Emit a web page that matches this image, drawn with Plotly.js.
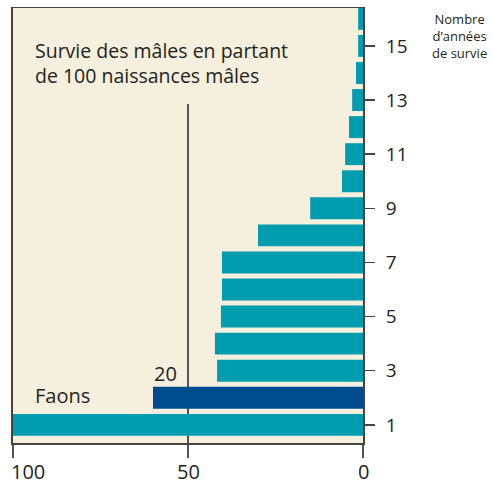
<!DOCTYPE html>
<html>
<head>
<meta charset="utf-8">
<script src="https://cdn.plot.ly/plotly-3.0.1.min.js"></script>
<style>html,body{margin:0;padding:0;background:#fff;}#chart{width:492px;height:484px;}</style>
</head>
<body>
<div id="chart"></div>
<script>
// Number of years of survival (y categories)
const years = [1, 2, 3, 4, 5, 6, 7, 8, 9, 10, 11, 12, 13, 14, 15, 16];
// Survivors out of 100 male births
const survivors = [100, 60, 41.7, 42.3, 40.6, 40.3, 40.3, 30, 15.1, 6.0, 5.1, 4.0, 3.1, 2.0, 1.4, 1.4];
const highlightYear = 2; // "Faons"
const yTickVals = [1, 3, 5, 7, 9, 11, 13, 15];
const xTickVals = [0, 50, 100];
const xTickText = ['0', '50', '100'];

const TEAL = '#009db1';
const DARK = '#004b8d';
const FONT = '"Open Sans", sans-serif';
const TXT = '#231f20';

const colors = years.map(y => y === highlightYear ? DARK : TEAL);

const trace = {
  type: 'bar',
  orientation: 'h',
  y: years,
  x: survivors,
  marker: {color: colors, line: {width: 0}},
  hoverinfo: 'none'
};

// x tick labels as annotations (the "100" label sits right of its tick)
const xLabelAnn = xTickVals.map((v, i) => ({
  text: xTickText[i], xref: 'x', yref: 'paper', x: v, y: -0.065,
  xanchor: v === 100 ? 'left' : 'center', xshift: v === 100 ? -4 : 0,
  yanchor: 'middle', showarrow: false,
  font: {family: FONT, size: 20, color: TXT}
}));

const layout = {
  width: 492, height: 484,
  margin: {l: 13, r: 129, t: 8, b: 41},
  paper_bgcolor: '#ffffff',
  plot_bgcolor: '#f5efdd',
  showlegend: false,
  bargap: 0.19,
  font: {family: FONT, color: TXT},
  xaxis: {
    range: [100, 0],
    tickvals: xTickVals,
    showticklabels: false,
    ticks: 'outside', ticklen: 13, tickcolor: '#555', tickwidth: 1.5,
    showline: true, linecolor: '#444', linewidth: 1.5, mirror: true,
    showgrid: false, zeroline: false
  },
  yaxis: {
    side: 'right',
    range: [0.33, 16.4],
    tickvals: yTickVals,
    ticks: 'outside', ticklen: 10, tickcolor: '#444', tickwidth: 1.5,
    showline: true, linecolor: '#444', linewidth: 2, mirror: true,
    showgrid: false, zeroline: false,
    tickfont: {family: FONT, size: 19, color: TXT},
    ticklabelstandoff: 7
  },
  shapes: [{
    type: 'line', xref: 'x', yref: 'y', layer: 'below',
    x0: 50, x1: 50, y0: 0.33, y1: 12.85,
    line: {color: '#231f20', width: 1.5}
  }],
  annotations: xLabelAnn.concat([
    {text: 'Survie des mâles en partant<br>de 100 naissances mâles', xref: 'paper', yref: 'paper',
     x: 0.057, y: 0.937, xanchor: 'left', yanchor: 'top', align: 'left', showarrow: false,
     font: {family: FONT, size: 19.5, color: TXT}},
    {text: 'Faons', xref: 'paper', yref: 'y', x: 0.057, y: 2.1, xanchor: 'left', yanchor: 'middle',
     showarrow: false, font: {family: FONT, size: 20, color: TXT}},
    {text: '20', xref: 'x', yref: 'y', x: 56.5, y: 2.9, xanchor: 'center', yanchor: 'middle',
     showarrow: false, font: {family: FONT, size: 20, color: TXT}},
    {text: 'Nombre<br>d’années<br>de survie', xref: 'paper', yref: 'paper', x: 1.275, y: 1.0,
     xanchor: 'center', yanchor: 'top', align: 'center', showarrow: false,
     font: {family: FONT, size: 13, color: TXT}}
  ])
};

Plotly.newPlot('chart', [trace], layout, {displayModeBar: false, staticPlot: true});
</script>
</body>
</html>
